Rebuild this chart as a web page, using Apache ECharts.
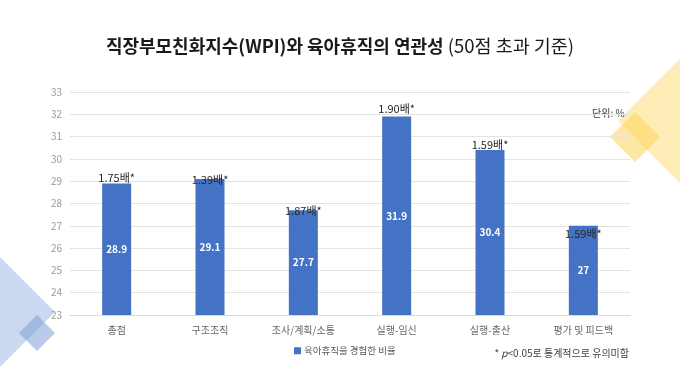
<!DOCTYPE html>
<html>
<head>
<meta charset="utf-8">
<script src="https://cdn.jsdelivr.net/npm/echarts@6/dist/echarts.min.js"></script>
<style>
html,body{margin:0;padding:0;background:#fff;}
#chart{width:680px;height:383px;}
</style>
</head>
<body>
<div id="chart"></div>
<script>
var categories = ['총점', '구조조직', '조사/계획/소통', '실행-임신', '실행-출산', '평가 및 피드백'];
var values = [28.9, 29.1, 27.7, 31.9, 30.4, 27];
var ratios = ['1.75배*', '1.39배*', '1.87배*', '1.90배*', '1.59배*', '1.59배*'];
var seriesName = '육아휴직을 경험한 비율';
var yTicks = {min: 23, max: 33, interval: 1};

// label nudges (layout only)
var ratioNudge = [0, 6, 6, -2, 0, 14];

var FONT = '"Noto Sans CJK KR", "Noto Sans", sans-serif';
var chart = echarts.init(document.getElementById('chart'), null, {renderer: 'canvas'});

var ratioData = values.map(function (v, i) {
  return {
    value: v,
    label: {offset: [0, ratioNudge[i]]}
  };
});

var option = {
  backgroundColor: '#ffffff',
  textStyle: {fontFamily: FONT},
  title: {
    text: '{b|직장부모친화지수(WPI)와 육아휴직의 연관성} {r|(50점 초과 기준)}',
    left: 'center',
    top: 32,
    textStyle: {
      rich: {
        b: {fontSize: 18, fontWeight: 'bold', color: '#1a1a1a', fontFamily: FONT},
        r: {fontSize: 18.5, fontWeight: 'normal', color: '#1a1a1a', fontFamily: FONT}
      }
    }
  },
  legend: {
    data: [seriesName],
    left: 289,
    top: 341,
    itemWidth: 7,
    itemHeight: 7,
    itemGap: 4,
    icon: 'rect',
    textStyle: {fontSize: 9.5, color: '#595959', fontFamily: FONT, padding: [0, 0, 0, -2]}
  },
  grid: {left: 70, right: 50, top: 92, bottom: 68},
  xAxis: {
    type: 'category',
    data: categories,
    axisLine: {lineStyle: {color: '#d9d9d9'}},
    axisTick: {show: false},
    axisLabel: {color: '#666666', fontSize: 10, margin: 10, fontFamily: FONT}
  },
  yAxis: {
    type: 'value',
    min: yTicks.min,
    max: yTicks.max,
    interval: yTicks.interval,
    axisLine: {show: false},
    axisTick: {show: false},
    axisLabel: {color: '#9a9a9a', fontSize: 10, margin: 8, fontFamily: FONT},
    splitLine: {lineStyle: {color: '#e3e3e3'}}
  },
  series: [
    {
      name: seriesName,
      type: 'bar',
      data: values,
      barWidth: 29,
      itemStyle: {color: '#4472C4'},
      label: {
        show: true,
        position: 'inside',
        color: '#ffffff',
        fontSize: 10,
        fontWeight: 'bold',
        fontFamily: FONT
      },
      z: 2
    },
    {
      name: 'ratio',
      type: 'bar',
      data: ratioData,
      barWidth: 29,
      barGap: '-100%',
      itemStyle: {color: 'rgba(0,0,0,0)'},
      silent: true,
      label: {
        show: true,
        position: 'top',
        distance: 0,
        color: '#262626',
        fontSize: 11,
        fontFamily: FONT,
        formatter: function (p) { return ratios[p.dataIndex]; }
      },
      z: 3
    }
  ],
  graphic: [
    {type: 'polygon', z: -1, shape: {points: [[618, 121], [681, 58], [744, 121], [681, 184]]},
     style: {fill: 'rgba(254, 219, 110, 0.5)'}},
    {type: 'polygon', z: 0, shape: {points: [[610, 137], [635, 112], [660, 137], [635, 162]]},
     style: {fill: 'rgba(254, 212, 90, 0.55)'}},
    {type: 'polygon', z: -1, shape: {points: [[-55, 312], [0, 257], [55, 312], [0, 367]]},
     style: {fill: 'rgba(150, 178, 225, 0.5)'}},
    {type: 'polygon', z: 0, shape: {points: [[19, 333], [37, 315], [55, 333], [37, 351]]},
     style: {fill: 'rgba(130, 160, 215, 0.55)'}},
    {type: 'text', left: 592, top: 108,
     style: {text: '단위: %', fontSize: 10, fill: '#404040', fontFamily: FONT}},
    {type: 'text', right: 51, top: 348,
     style: {
       text: '{a|* }{p|p}{a|<0.05로 통계적으로 유의미함}',
       rich: {
         a: {fontSize: 10, fill: '#404040', fontFamily: FONT},
         p: {fontSize: 10, fill: '#404040', fontStyle: 'italic', fontFamily: FONT}
       }
     }}
  ]
};
chart.setOption(option);
</script>
</body>
</html>
